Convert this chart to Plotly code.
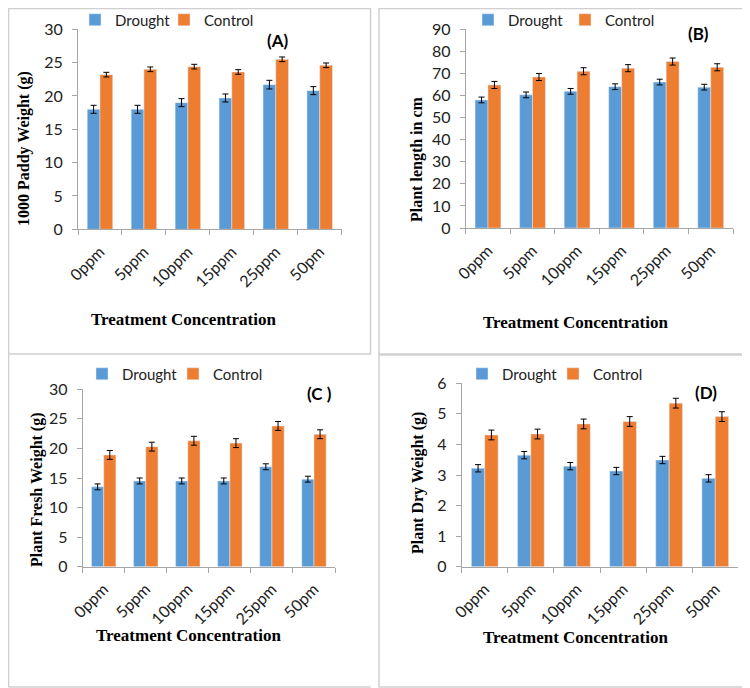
import plotly.graph_objects as go

# the page adds an 8px body margin, so the figure is drawn 8px smaller
# and every reference pixel position is shifted back by OFF
OFF = 8
W, H = 750 - OFF, 688 - OFF

categories = ["0ppm", "5ppm", "10ppm", "15ppm", "25ppm", "50pm"]

# (A) 1000 paddy weight
paddy_drought = [18.0, 18.0, 19.0, 19.7, 21.7, 20.8]
paddy_control = [23.2, 24.0, 24.4, 23.6, 25.5, 24.6]
paddy_drought_err = [0.6, 0.6, 0.6, 0.6, 0.65, 0.6]
paddy_control_err = [0.35, 0.35, 0.35, 0.35, 0.35, 0.35]

# (B) plant length
length_drought = [58.0, 60.3, 61.9, 64.0, 66.1, 63.8]
length_control = [64.8, 68.4, 71.0, 72.4, 75.4, 72.8]
length_drought_err = [1.3, 1.3, 1.3, 1.3, 1.3, 1.3]
length_control_err = [1.6, 1.6, 1.6, 1.6, 1.6, 1.6]

# (C) plant fresh weight
fresh_drought = [13.5, 14.5, 14.5, 14.5, 16.9, 14.8]
fresh_control = [18.9, 20.3, 21.3, 20.9, 23.8, 22.4]
fresh_drought_err = [0.5, 0.5, 0.5, 0.5, 0.5, 0.5]
fresh_control_err = [0.75, 0.75, 0.75, 0.75, 0.75, 0.75]

# (D) plant dry weight
dry_drought = [3.22, 3.65, 3.29, 3.13, 3.49, 2.89]
dry_control = [4.31, 4.34, 4.67, 4.75, 5.35, 4.91]
dry_drought_err = [0.12, 0.12, 0.12, 0.12, 0.12, 0.12]
dry_control_err = [0.16, 0.16, 0.16, 0.16, 0.16, 0.16]

BLUE = "#5B9BD5"
ORANGE = "#ED7D31"
AXIS_GRAY = "#A6A6A6"
BORDER = "#CFCFCF"


def px_x(v):
    return max(v - OFF, 0.5) / W


def px_y(v):
    return 1 - max(v - OFF, 0.5) / H


# pixel geometry of each panel (reference coordinates)
panels = [
    dict(tag="(A)", ytitle="1000 Paddy Weight (g)", rng=30, dtick=5,
         d=paddy_drought, c=paddy_control, de=paddy_drought_err, ce=paddy_control_err,
         x0=78, x1=341.7, y0=29.3, y1=229.3,
         leg=(75, 20), ew=44, lab=(277, 40), xt=(183, 320), yt=(24, 149)),
    dict(tag="(B)", ytitle="Plant length in cm", rng=90, dtick=10,
         d=length_drought, c=length_control, de=length_drought_err, ce=length_control_err,
         x0=465.7, x1=733, y0=29.3, y1=228,
         leg=(468, 20), ew=52, lab=(698, 34), xt=(575, 322), yt=(417, 159)),
    dict(tag="(C )", ytitle="Plant Fresh Weight (g)", rng=30, dtick=5,
         d=fresh_drought, c=fresh_control, de=fresh_drought_err, ce=fresh_control_err,
         x0=82.7, x1=335, y0=389.3, y1=566.7,
         leg=(82, 374), ew=46, lab=(319, 393), xt=(188, 635), yt=(37, 490)),
    dict(tag="(D)", ytitle="Plant Dry Weight (g)", rng=6, dtick=1,
         d=dry_drought, c=dry_control, de=dry_drought_err, ce=dry_control_err,
         x0=461.7, x1=738.3, y0=383.3, y1=566.7,
         leg=(462, 374), ew=46, lab=(706, 392), xt=(575, 637), yt=(418, 483)),
]

fig = go.Figure()
annotations = []
layout = {}

for i, p in enumerate(panels):
    n = "" if i == 0 else str(i + 1)
    xa, ya = "x" + n, "y" + n
    leg = "legend" + n
    fig.add_trace(go.Bar(
        x=categories, y=p["d"], name="Drought", marker_color=BLUE,
        error_y=dict(type="data", array=p["de"], color="#000000", thickness=1, width=3),
        xaxis=xa, yaxis=ya, legend=leg,
    ))
    fig.add_trace(go.Bar(
        x=categories, y=p["c"], name="Control", marker_color=ORANGE,
        error_y=dict(type="data", array=p["ce"], color="#000000", thickness=1, width=3),
        xaxis=xa, yaxis=ya, legend=leg,
    ))

    layout["xaxis" + n] = dict(
        domain=[px_x(p["x0"]), px_x(p["x1"])], anchor=ya,
        showline=True, linecolor=AXIS_GRAY, linewidth=1,
        ticks="outside", tickson="boundaries", ticklen=5, tickcolor=AXIS_GRAY,
        ticklabelstandoff=6,
        tickangle=-45, tickfont=dict(family="Lato", size=16, color="#222222"),
        showgrid=False, zeroline=False,
    )
    layout["yaxis" + n] = dict(
        domain=[px_y(p["y1"]), px_y(p["y0"])], anchor=xa,
        range=[0, p["rng"]], dtick=p["dtick"],
        showline=True, linecolor=AXIS_GRAY, linewidth=1,
        ticks="outside", ticklen=5, tickcolor=AXIS_GRAY, ticklabelstandoff=6,
        tickfont=dict(family="Lato", size=16, color="#222222"),
        showgrid=False, zeroline=False,
    )
    layout[leg] = dict(
        orientation="h", x=px_x(p["leg"][0]), y=px_y(p["leg"][1]),
        xanchor="left", yanchor="middle", entrywidth=p["ew"],
        font=dict(family="Lato", size=15, color="#222222"),
        bgcolor="rgba(0,0,0,0)", itemclick=False,
    )

    annotations.append(dict(
        text="<b>%s</b>" % p["tag"], x=px_x(p["lab"][0]), y=px_y(p["lab"][1]),
        xref="paper", yref="paper", showarrow=False,
        xanchor="center", yanchor="middle",
        font=dict(family="Lato", size=17, color="#000000"),
    ))
    annotations.append(dict(
        text="<b>Treatment Concentration</b>", x=px_x(p["xt"][0]), y=px_y(p["xt"][1]),
        xref="paper", yref="paper", showarrow=False,
        xanchor="center", yanchor="middle",
        font=dict(family="Liberation Serif", size=17, color="#000000"),
    ))
    annotations.append(dict(
        text="<b>%s</b>" % p["ytitle"], x=px_x(p["yt"][0]), y=px_y(p["yt"][1]),
        xref="paper", yref="paper", showarrow=False, textangle=-90,
        xanchor="center", yanchor="middle",
        font=dict(family="Liberation Serif", size=16, color="#000000"),
    ))

# panel frames
shapes = [
    dict(type="rect", x0=px_x(1), x1=px_x(370.5), y0=px_y(354), y1=px_y(1)),
    dict(type="rect", x0=px_x(379), x1=px_x(749), y0=px_y(354), y1=px_y(1)),
    dict(type="rect", x0=px_x(379), x1=px_x(749), y0=px_y(687), y1=px_y(355)),
    dict(type="line", x0=px_x(4), x1=px_x(4), y0=px_y(687), y1=px_y(355)),
    dict(type="line", x0=px_x(4), x1=px_x(370.5), y0=px_y(687), y1=px_y(687)),
]
for s in shapes:
    s.update(xref="paper", yref="paper", line=dict(color=BORDER, width=1.5))

fig.update_layout(
    **layout,
    width=W, height=H,
    margin=dict(l=0, r=0, t=0, b=0, autoexpand=False),
    paper_bgcolor="white", plot_bgcolor="white",
    barmode="group", bargap=0.42, bargroupgap=0,
    annotations=annotations, shapes=shapes,
    showlegend=True,
)

fig.write_html("out.html")
